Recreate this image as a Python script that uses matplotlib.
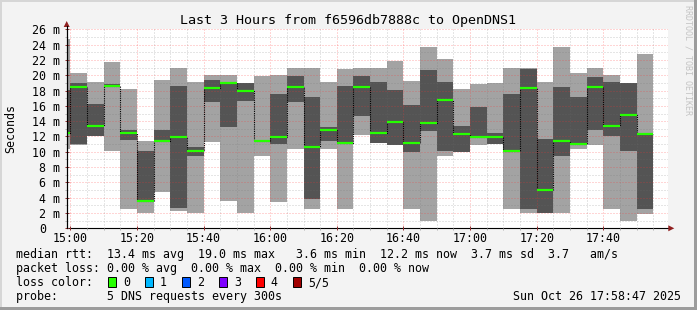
import numpy as np
import matplotlib
matplotlib.use("Agg")
import matplotlib.pyplot as plt
from matplotlib.patches import Rectangle, Polygon
from matplotlib.transforms import ScaledTranslation

W, H = 697, 310

# 5 minute slots (start time). rtt in ms of the 5 sorted pings: min, 2nd, median, 4th, max
slots = ["14:55", "15:00", "15:05", "15:10", "15:15", "15:20", "15:25", "15:30", "15:35",
         "15:40", "15:45", "15:50", "15:55", "16:00", "16:05", "16:10", "16:15", "16:20",
         "16:25", "16:30", "16:35", "16:40", "16:45", "16:50", "16:55", "17:00", "17:05",
         "17:10", "17:15", "17:20", "17:25", "17:30", "17:35", "17:40", "17:45", "17:50"]
rtt_min = [10.4, 10.9, 12.0, 10.15, 2.57, 2.05, 4.8, 2.2, 1.96, 11.25, 3.6, 1.96,
           9.45, 3.5, 10.4, 2.57, 10.4, 2.57, 12.2, 11.1, 10.9, 2.57, 1.0, 9.4,
           10.0, 10.9, 11.05, 2.57, 2.05, 2.05, 2.05, 10.4, 10.9, 2.57, 1.0, 1.9]
rtt_lo = [12.4, 11.0, 12.0, 18.5, 11.55, 3.5, 11.3, 2.7, 9.5, 16.5, 13.3, 16.65,
          11.35, 11.0, 16.5, 3.85, 11.35, 11.0, 14.7, 11.1, 10.9, 10.0, 12.7, 10.1,
          10.0, 11.9, 11.05, 10.0, 2.57, 2.05, 9.45, 11.0, 12.8, 12.05, 10.1, 2.57]
rtt_med = [12.5, 18.5, 13.4, 18.65, 12.5, 3.6, 11.35, 11.95, 10.1, 18.4, 19.05, 18.0,
           11.4, 11.95, 18.5, 10.6, 12.8, 11.15, 18.5, 12.5, 13.85, 11.2, 13.8, 16.8,
           12.35, 11.95, 11.95, 10.1, 18.4, 5.05, 11.4, 11.05, 18.5, 13.4, 14.8, 12.3]
rtt_hi = [18.1, 18.95, 16.25, 18.8, 12.8, 10.1, 12.85, 18.6, 10.6, 19.4, 19.1, 19.05,
          11.45, 17.55, 19.95, 17.15, 13.25, 18.6, 19.95, 19.1, 18.1, 16.1, 20.7, 19.1,
          13.4, 15.8, 12.4, 17.6, 20.85, 11.7, 18.5, 17.1, 19.8, 19.1, 19.0, 12.35]
rtt_max = [24.8, 20.35, 19.1, 21.75, 18.2, 11.4, 19.4, 21.0, 19.1, 20.0, 20.0, 19.05,
           19.95, 20.0, 21.0, 21.0, 19.1, 20.8, 21.0, 21.0, 21.9, 19.3, 23.75, 22.1,
           18.2, 18.9, 19.0, 20.9, 21.0, 19.1, 23.75, 20.25, 20.95, 20.0, 19.0, 22.8]

xtick_labels = ["15:00", "15:20", "15:40", "16:00", "16:20", "16:40", "17:00", "17:20", "17:40"]
ytick_values = [0, 2, 4, 6, 8, 10, 12, 14, 16, 18, 20, 22, 24, 26]

loss_labels = ["0", "1", "2", "3", "4", "5/5"]
loss_colors = ["#26ff00", "#00b8ff", "#0059ff", "#7e00ff", "#ff0000", "#a00000"]

title = "Last 3 Hours from f6596db7888c to OpenDNS1"
legend_rows = [
    "median rtt:  13.4 ms avg  19.0 ms max   3.6 ms min  12.2 ms now  3.7 ms sd  3.7   am/s",
    "packet loss: 0.00 % avg  0.00 % max  0.00 % min  0.00 % now",
    "loss color:",
    "probe:       5 DNS requests every 300s",
]
stamp = "Sun Oct 26 17:58:47 2025"

LIGHT = "#a3a3a3"
DARK = "#545454"
GREEN = "#26ff00"
STEP = 5


def to_min(s):
    h, m = s.split(":")
    return (int(h) - 15) * 60 + int(m)


plt.rcParams["font.family"] = "DejaVu Sans Mono"
plt.rcParams["font.size"] = 8.4

t = np.array([to_min(s) for s in slots], dtype=float)
lo_ = np.array(rtt_min); p2 = np.array(rtt_lo); med = np.array(rtt_med)
p4 = np.array(rtt_hi); hi_ = np.array(rtt_max)

fig = plt.figure(figsize=(W / 100, H / 100), dpi=100)
fig.patch.set_facecolor("#f3f3f3")

# plot area in pixels
x0, x1, ytop, ybot = 66.7, 668.3, 28.6, 228.3
ax = fig.add_axes([x0 / W, 1 - ybot / H, (x1 - x0) / W, (ybot - ytop) / H])
ax.set_facecolor("white")

ax.bar(t, hi_ - lo_, bottom=lo_, width=STEP, align="edge", color=LIGHT, linewidth=0, zorder=1)
ax.bar(t, p4 - p2, bottom=p2, width=STEP, align="edge", color=DARK, linewidth=0, zorder=1.1)

# median: dotted black connectors + green segments
ax.step(np.append(t, t[-1] + STEP), np.append(med, med[-1]), where="post",
        color="black", lw=0.8, ls=(0, (1, 1)), zorder=2.8)
ax.hlines(med, t, t + STEP, color=GREEN, lw=1.6, zorder=3)

ax.set_xlim(-1.08, 179.5)
ax.set_ylim(0, 26.1)

ax.set_xticks([to_min(s) for s in xtick_labels])
ax.set_xticklabels(xtick_labels)
ax.set_xticks(np.arange(0, 180, 5), minor=True)
ax.set_yticks(ytick_values)
ax.set_yticklabels(["0" if v == 0 else f"{v} m" for v in ytick_values])
ax.set_yticks(np.arange(0, 26, 1), minor=True)

ax.set_axisbelow(False)
ax.grid(which="major", color="#ff3030", alpha=0.4, lw=0.72, ls=(0, (1, 2)))
ax.grid(which="minor", color="#707070", alpha=0.35, lw=0.72, ls=(0, (1, 2)))

ax.tick_params(which="major", direction="inout", length=3, width=0.72, color="#903030", pad=1.5)
ax.tick_params(axis="y", which="major", pad=3.5)
ax.tick_params(which="minor", direction="out", length=1.5, width=0.72, color="#b0b0b0")

zero_tick = ax.yaxis.get_major_ticks()[0]
zero_tick.label1.set_transform(zero_tick.label1.get_transform()
                               + ScaledTranslation(-0.14, 0, fig.dpi_scale_trans))

for s in ["top", "right"]:
    ax.spines[s].set_visible(False)
for s in ["left", "bottom"]:
    ax.spines[s].set_color("black")
    ax.spines[s].set_linewidth(0.8)


def fy(y):
    return 1 - y / H


# axis arrows
fig.add_artist(plt.Line2D([x0 / W, x0 / W], [fy(ybot), fy(26)], color="black", lw=0.8))
fig.add_artist(Polygon([[(x0 - 3) / W, fy(27)], [(x0 + 3) / W, fy(27)], [x0 / W, fy(21)]],
                       closed=True, color="#902020", lw=0))
fig.add_artist(Polygon([[x1 / W, fy(ybot - 3)], [x1 / W, fy(ybot + 3)], [(x1 + 6) / W, fy(ybot)]],
                       closed=True, color="#902020", lw=0))

# frame
fig.add_artist(Rectangle((0, fy(2)), 1, 2 / H, color="#d6d6d6", lw=0))
fig.add_artist(Rectangle((0, 0), 2 / W, 1, color="#d6d6d6", lw=0))
fig.add_artist(Rectangle((0, 0), 1, 3 / H, color="#9c9c9c", lw=0))
fig.add_artist(Rectangle((1 - 3 / W, 0), 3 / W, 1, color="#9c9c9c", lw=0))

fig.text(348.5 / W, fy(24), title, ha="center", va="baseline", fontsize=9.6)
fig.text(11 / W, fy(128.5), "Seconds", rotation=90, ha="center", va="center")
fig.text(688 / W, fy(60), "RRDTOOL / TOBI OETIKER", rotation=-90, ha="center", va="center",
         fontsize=6, color="#c4c4c4")

baselines = [258.3, 272.3, 286.3, 300.3]
for row, yb in zip(legend_rows, baselines):
    fig.text(16 / W, fy(yb), row, ha="left", va="baseline")
for i, (lab, col) in enumerate(zip(loss_labels, loss_colors)):
    bx = 108.3 + 37 * i
    fig.add_artist(Rectangle((bx / W, fy(286.5)), 7.5 / W, 10 / H, facecolor=col,
                             edgecolor="black", lw=0.7))
    fig.text((bx + 14.5) / W, fy(286.3), lab, ha="left", va="baseline")
fig.text(681 / W, fy(300.3), stamp, ha="right", va="baseline")

fig.savefig("out.png", dpi=100, facecolor=fig.get_facecolor())
